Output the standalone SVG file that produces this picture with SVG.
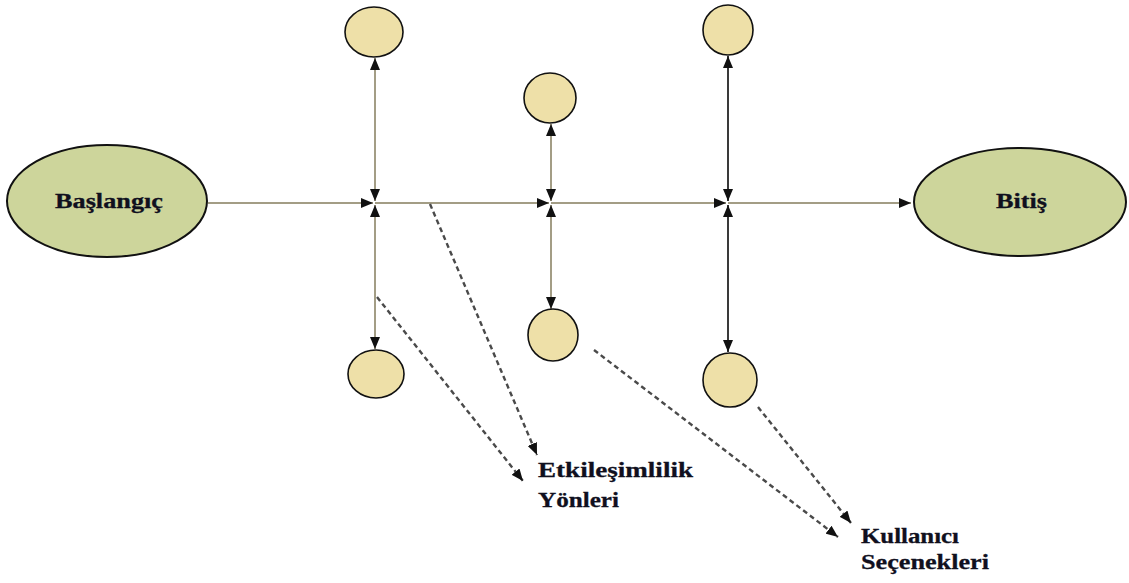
<svg xmlns="http://www.w3.org/2000/svg" width="1129" height="583" viewBox="0 0 1129 583">
  <style>
    .terminal { fill: #cdd59b; stroke: #111; stroke-width: 2; }
    .option { fill: #eee0a8; stroke: #111; stroke-width: 1.6; }
    .label { font-family: "Liberation Serif", "Times New Roman", serif; font-weight: bold; font-size: 22px; fill: #10101e; stroke: #10101e; stroke-width: 0.3; }
    .flow { stroke: #a39d85; stroke-width: 2; fill: none; }
    .flow-dark { stroke: #3a3a3a; stroke-width: 2; fill: none; }
    .hint { stroke: #4a4a4a; stroke-width: 2.4; stroke-dasharray: 5 3.5; fill: none; }
  </style>
  <defs>
    <marker id="head" viewBox="0 0 12 10" refX="12" refY="5" markerWidth="12" markerHeight="10" markerUnits="userSpaceOnUse" orient="auto">
      <path d="M0,0 L12,5 L0,10 Z" fill="#111"/>
    </marker>
    <marker id="tail" viewBox="0 0 12 10" refX="0" refY="5" markerWidth="12" markerHeight="10" markerUnits="userSpaceOnUse" orient="auto">
      <path d="M12,0 L0,5 L12,10 Z" fill="#111"/>
    </marker>
  </defs>
  <rect width="1129" height="583" fill="#ffffff"/>

  <g id="connectors">
    <!-- main path -->
    <line class="flow" x1="208" y1="203" x2="373" y2="203" marker-end="url(#head)"/>
    <line class="flow" x1="375" y1="203" x2="549" y2="203" marker-end="url(#head)"/>
    <line class="flow" x1="551" y1="203" x2="726" y2="203" marker-end="url(#head)"/>
    <line class="flow" x1="728" y1="203" x2="911" y2="203" marker-end="url(#head)"/>
    <!-- branches at first junction -->
    <line class="flow" x1="375" y1="58" x2="375" y2="201" marker-start="url(#tail)" marker-end="url(#head)"/>
    <line class="flow" x1="375" y1="205" x2="375" y2="349" marker-start="url(#tail)" marker-end="url(#head)"/>
    <!-- branches at second junction -->
    <line class="flow" x1="551" y1="124" x2="551" y2="201" marker-start="url(#tail)" marker-end="url(#head)"/>
    <line class="flow" x1="551" y1="205" x2="551" y2="309" marker-start="url(#tail)" marker-end="url(#head)"/>
    <!-- branches at third junction -->
    <line class="flow-dark" x1="728" y1="56" x2="728" y2="201" marker-start="url(#tail)" marker-end="url(#head)"/>
    <line class="flow-dark" x1="728" y1="205" x2="728" y2="352" marker-start="url(#tail)" marker-end="url(#head)"/>
    <!-- dashed pointers to the labels -->
    <line class="hint" x1="377" y1="297" x2="523" y2="481" marker-end="url(#head)"/>
    <line class="hint" x1="430" y1="204" x2="537" y2="455" marker-end="url(#head)"/>
    <line class="hint" x1="594" y1="350" x2="838" y2="537" marker-end="url(#head)"/>
    <line class="hint" x1="758" y1="407" x2="851" y2="523" marker-end="url(#head)"/>
  </g>

  <g id="start">
    <ellipse class="terminal" cx="107" cy="201" rx="100" ry="56"/>
    <text class="label" x="55" y="208" textLength="108" lengthAdjust="spacingAndGlyphs">Başlangıç</text>
  </g>
  <g id="end">
    <ellipse class="terminal" cx="1020" cy="202" rx="106" ry="54"/>
    <text class="label" x="996" y="208" textLength="51" lengthAdjust="spacingAndGlyphs">Bitiş</text>
  </g>

  <g id="option-1-top"><ellipse class="option" cx="374" cy="32" rx="29" ry="25"/></g>
  <g id="option-1-bottom"><ellipse class="option" cx="376" cy="374" rx="28" ry="24"/></g>
  <g id="option-2-top"><ellipse class="option" cx="550" cy="98" rx="26" ry="25"/></g>
  <g id="option-2-bottom"><ellipse class="option" cx="553" cy="335" rx="25" ry="26"/></g>
  <g id="option-3-top"><ellipse class="option" cx="728" cy="30" rx="25" ry="25"/></g>
  <g id="option-3-bottom"><ellipse class="option" cx="730" cy="380" rx="27" ry="27"/></g>

  <g id="label-interaction">
    <text class="label" x="538" y="477" textLength="155" lengthAdjust="spacingAndGlyphs">Etkileşimlilik</text>
    <text class="label" x="538" y="507" textLength="81" lengthAdjust="spacingAndGlyphs">Yönleri</text>
  </g>
  <g id="label-user">
    <text class="label" x="861" y="543" textLength="98" lengthAdjust="spacingAndGlyphs">Kullanıcı</text>
    <text class="label" x="861" y="569" textLength="128" lengthAdjust="spacingAndGlyphs">Seçenekleri</text>
  </g>
</svg>
